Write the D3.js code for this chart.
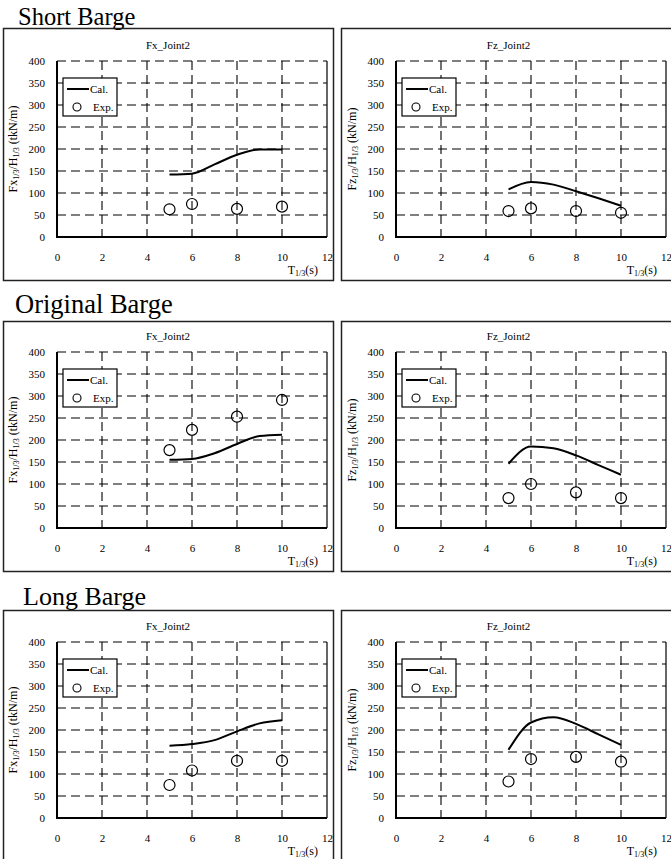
<!DOCTYPE html>
<html><head><meta charset="utf-8">
<script src="https://cdn.jsdelivr.net/npm/d3@7"></script>
<style>
body{margin:0;background:#fff}
svg{display:block}
text{font-family:"Liberation Serif","Times New Roman",serif;fill:#000}
</style>
</head><body>
<svg id="c" width="671" height="859"></svg>
<script>
// ---------------- data ----------------
const calPeriods = [5, 6, 7, 8, 9, 10];
const expPeriods = [5, 6, 8, 10];
const xTicks = [0, 2, 4, 6, 8, 10, 12];
const yTicks = [0, 50, 100, 150, 200, 250, 300, 350, 400];
const groupNames = ["Short Barge", "Original Barge", "Long Barge"];
const panelTitles = ["Fx_Joint2", "Fz_Joint2"];
const seriesNames = ["Cal.", "Exp."];

const shortFxCal = [142, 144, 165, 187, 199, 199];
const shortFxExp = [63, 75, 64, 69];
const shortFzCal = [108, 125, 119, 104, 88, 71];
const shortFzExp = [59, 65, 59, 55];

const originalFxCal = [155, 157, 170, 191, 209, 212];
const originalFxExp = [177, 223, 253, 291];
const originalFzCal = [146, 185, 181, 165, 143, 121];
const originalFzExp = [68, 100, 81, 68];

const longFxCal = [164, 168, 177, 197, 215, 222];
const longFxExp = [75, 108, 130, 130];
const longFzCal = [155, 217, 229, 214, 190, 166];
const longFzExp = [83, 134, 139, 128];

const calData = [[shortFxCal, shortFzCal], [originalFxCal, originalFzCal], [longFxCal, longFzCal]];
const expData = [[shortFxExp, shortFzExp], [originalFxExp, originalFzExp], [longFxExp, longFzExp]];

// ---------------- layout ----------------
const rows = [
  {top: 28, plotTop: 61, bottom: 280, lx: 18, ly: 25, fs: 24.5},
  {top: 321, plotTop: 352, bottom: 571, lx: 15, ly: 313, fs: 26.5},
  {top: 610, plotTop: 642, bottom: 872, lx: 23, ly: 605, fs: 26}
];
const cols = [
  {left: 3, right: 333, plotLeft: 57, unit: "(tkN/m)", sym: "Fx"},
  {left: 341, right: 678, plotLeft: 396, unit: "(kN/m)", sym: "Fz"}
];
const PW = 270, PH = 176;

const svg = d3.select("#c");

rows.forEach((r, ri) => {
  svg.append("text").attr("x", r.lx).attr("y", r.ly)
    .attr("font-size", r.fs).text(groupNames[ri]);

  cols.forEach((c, ci) => {
    const g = svg.append("g");
    // panel frame
    g.append("rect").attr("x", c.left + 0.5).attr("y", r.top + 0.5)
      .attr("width", c.right - c.left).attr("height", r.bottom - r.top)
      .attr("fill", "none").attr("stroke", "#222").attr("stroke-width", 1.5);

    const x = d3.scaleLinear().domain([0, 12]).range([c.plotLeft, c.plotLeft + PW]);
    const y = d3.scaleLinear().domain([0, 400]).range([r.plotTop + PH, r.plotTop]);
    const pb = r.plotTop + PH;

    // title
    g.append("text").attr("x", (c.left + Math.min(c.right, 676)) / 2 - (ci ? 0 : 0))
      .attr("y", r.plotTop - 12).attr("text-anchor", "middle")
      .attr("font-size", 11).text(panelTitles[ci]);

    // grid
    g.selectAll(".hg").data(yTicks.filter(v => v > 0)).enter().append("line")
      .attr("x1", x(0)).attr("x2", x(12)).attr("y1", d => y(d)).attr("y2", d => y(d))
      .attr("stroke", "#000").attr("stroke-width", 1.1).attr("stroke-dasharray", "9,5");
    g.selectAll(".vg").data(xTicks.filter(v => v > 0 && v < 12)).enter().append("line")
      .attr("x1", d => x(d)).attr("x2", d => x(d)).attr("y1", y(400)).attr("y2", y(0))
      .attr("stroke", "#000").attr("stroke-width", 1.1).attr("stroke-dasharray", "9,5");

    // right border
    g.append("line").attr("x1", x(12)).attr("x2", x(12)).attr("y1", y(400)).attr("y2", y(0))
      .attr("stroke", "#000").attr("stroke-width", 1.2);

    // axes
    const ax = g.append("g").attr("transform", `translate(0,${pb})`)
      .call(d3.axisBottom(x).tickValues(xTicks).tickSize(0).tickPadding(16).tickFormat(d3.format("d")));
    const ay = g.append("g").attr("transform", `translate(${c.plotLeft},0)`)
      .call(d3.axisLeft(y).tickValues(yTicks).tickSize(0).tickPadding(12).tickFormat(d3.format("d")));
    [ax, ay].forEach(a => {
      a.select(".domain").remove();
      a.selectAll("text").attr("font-size", 11).attr("font-family", "Liberation Serif").attr("fill", "#000");
    });
    g.append("line").attr("x1", x(0) - 1).attr("x2", x(12)).attr("y1", pb).attr("y2", pb)
      .attr("stroke", "#000").attr("stroke-width", 2);
    g.append("line").attr("x1", x(0)).attr("x2", x(0)).attr("y1", y(400)).attr("y2", pb)
      .attr("stroke", "#000").attr("stroke-width", 2);

    // y label
    const yl = g.append("text")
      .attr("transform", `translate(${c.plotLeft - 40},${r.plotTop + PH / 2}) rotate(-90)`)
      .attr("text-anchor", "middle").attr("font-size", 12);
    yl.append("tspan").text(c.sym);
    yl.append("tspan").attr("font-size", 8).attr("dy", 2).text("1/3");
    yl.append("tspan").attr("dy", -2).text("/H");
    yl.append("tspan").attr("font-size", 8).attr("dy", 2).text("1/3");
    yl.append("tspan").attr("dy", -2).text(" " + c.unit);

    // x label
    const xl = g.append("text").attr("x", x(12) - 9).attr("y", pb + 37)
      .attr("text-anchor", "end").attr("font-size", 12);
    xl.append("tspan").text("T");
    xl.append("tspan").attr("font-size", 8).attr("dy", 2).text("1/3");
    xl.append("tspan").attr("dy", -2).text("(s)");

    // calculated line
    const cal = calPeriods.map((p, i) => [p, calData[ri][ci][i]]);
    g.append("path").datum(cal)
      .attr("d", d3.line().x(d => x(d[0])).y(d => y(d[1])).curve(d3.curveMonotoneX))
      .attr("fill", "none").attr("stroke", "#000").attr("stroke-width", 2);

    // experimental points
    const exp = expPeriods.map((p, i) => [p, expData[ri][ci][i]]);
    g.selectAll(".pt").data(exp).enter().append("circle")
      .attr("cx", d => x(d[0])).attr("cy", d => y(d[1])).attr("r", 5.5)
      .attr("fill", "none").attr("stroke", "#000").attr("stroke-width", 1.2);

    // legend
    const lx = c.plotLeft + 6, ly = r.plotTop + 17;
    const lg = g.append("g");
    lg.append("rect").attr("x", lx).attr("y", ly).attr("width", 54).attr("height", 38)
      .attr("fill", "#fff").attr("stroke", "#000").attr("stroke-width", 1.2);
    lg.append("line").attr("x1", lx + 4).attr("x2", lx + 26).attr("y1", ly + 11).attr("y2", ly + 11)
      .attr("stroke", "#000").attr("stroke-width", 2);
    lg.append("text").attr("x", lx + 27).attr("y", ly + 15).attr("font-size", 11).text(seriesNames[0]);
    lg.append("circle").attr("cx", lx + 14).attr("cy", ly + 29).attr("r", 4)
      .attr("fill", "none").attr("stroke", "#000").attr("stroke-width", 1.1);
    lg.append("text").attr("x", lx + 30).attr("y", ly + 33).attr("font-size", 11).text(seriesNames[1]);
  });
});
</script>
</body></html>
